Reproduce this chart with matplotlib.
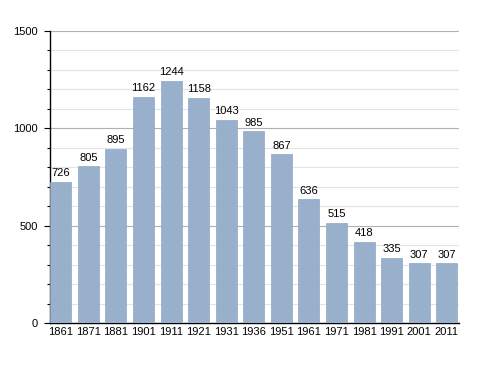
import matplotlib.pyplot as plt
from matplotlib.ticker import MultipleLocator

plt.rcParams['font.family'] = ['Liberation Sans', 'DejaVu Sans']

years = ['1861', '1871', '1881', '1901', '1911', '1921', '1931', '1936',
         '1951', '1961', '1971', '1981', '1991', '2001', '2011']
population = [726, 805, 895, 1162, 1244, 1158, 1043, 985,
              867, 636, 515, 418, 335, 307, 307]

fig = plt.figure(figsize=(4.88, 3.73), dpi=100)
ax = fig.add_axes([0.1025, 0.134, 0.838, 0.783])

x = list(range(len(years)))
ax.bar(x, population, width=0.76, color='#98b0cc', edgecolor='#8ea8c6',
       linewidth=0.5, zorder=3)
for xi, v in zip(x, population):
    ax.text(xi, v + 18, str(v), ha='center', va='bottom', fontsize=8,
            color='black', zorder=4)

ax.set_xlim(-0.39, 14.44)
ax.set_ylim(0, 1500)
ax.set_xticks(x)
ax.set_xticklabels(years, fontsize=8)
ax.yaxis.set_major_locator(MultipleLocator(500))
ax.yaxis.set_minor_locator(MultipleLocator(100))
ax.tick_params(axis='y', which='major', labelsize=8, length=4, width=0.8,
               direction='out', pad=5)
ax.tick_params(axis='y', which='minor', length=2.5, width=0.8, direction='out')
ax.tick_params(axis='x', length=0, pad=3)
ax.grid(axis='y', which='major', color='#b0b0b0', linewidth=0.8, zorder=0)
ax.grid(axis='y', which='minor', color='#e4e4e4', linewidth=0.8, zorder=0)
for side in ['top', 'right']:
    ax.spines[side].set_visible(False)
ax.spines['left'].set_linewidth(1.0)
ax.spines['bottom'].set_linewidth(1.0)

fig.savefig('out.png', dpi=100)
